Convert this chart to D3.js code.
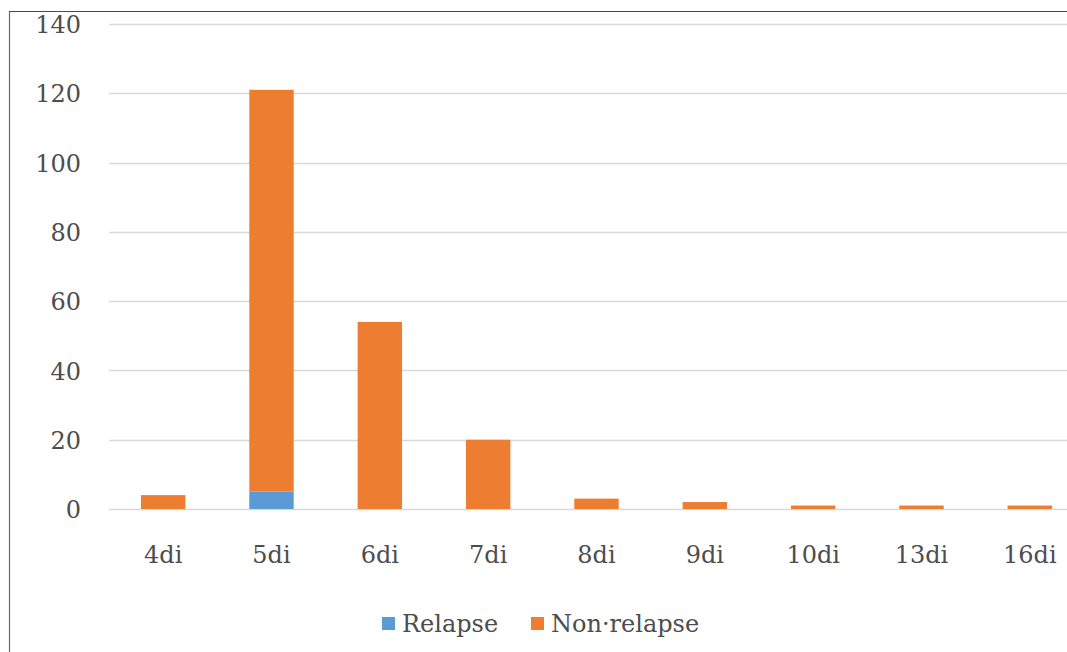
<!DOCTYPE html>
<html>
<head>
<meta charset="utf-8">
<script src="https://cdn.jsdelivr.net/npm/d3@7"></script>
<style>
  html, body { margin: 0; padding: 0; background: #fff; }
  svg { display: block; }
  svg text { font-family: "DejaVu Serif", serif; fill: #4d4d4d; }
</style>
</head>
<body>
<svg id="chart" width="1067" height="652"></svg>
<script>
const categories = ["4di", "5di", "6di", "7di", "8di", "9di", "10di", "13di", "16di"];
const relapse    = [0, 5, 0, 0, 0, 0, 0, 0, 0];
const nonRelapse = [4, 116, 54, 20, 3, 2, 1, 1, 1];
const seriesNames = ["Relapse", "Non-relapse"];
const seriesLabels = ["Relapse", "Non\u00b7relapse"];
const yTicks = [0, 20, 40, 60, 80, 100, 120, 140];
const colors = ["#5B9BD5", "#ED7D31"];

const svg = d3.select("#chart");
const W = 1067, H = 652;
const FONT = "'DejaVu Serif', serif";

// outer frame (left and top edges visible)
svg.append("line").attr("x1", 9.5).attr("x2", 9.5).attr("y1", 11).attr("y2", H)
  .attr("stroke", "#6a6a6a").attr("stroke-width", 1.2);
svg.append("line").attr("x1", 9).attr("x2", W).attr("y1", 11.5).attr("y2", 11.5)
  .attr("stroke", "#4a4a4a").attr("stroke-width", 1.2);

const x = d3.scaleBand().domain(categories).range([109, 1084]).paddingInner(0.59).paddingOuter(0.295);
const y = d3.scaleLinear().domain([0, 140]).range([509, 24]);

// gridlines
svg.append("g").selectAll("line").data(yTicks).join("line")
  .attr("x1", 109).attr("x2", W)
  .attr("y1", d => Math.round(y(d)) + 0.5).attr("y2", d => Math.round(y(d)) + 0.5)
  .attr("stroke", "#d9d9d9").attr("stroke-width", 1.3);

// y-axis labels
const yAxis = d3.axisLeft(y).tickValues(yTicks).tickSize(0).tickPadding(0);
const gy = svg.append("g").attr("transform", "translate(81,0)").call(yAxis);
gy.select(".domain").remove();
gy.selectAll("text").style("font-family", FONT).style("font-size", "24px").style("fill", "#4d4d4d").attr("dy", "0.36em");

// stacked bars
const rows = categories.map((c, i) => ({ cat: c, "Relapse": relapse[i], "Non-relapse": nonRelapse[i] }));
const stacked = d3.stack().keys(seriesNames)(rows);
svg.append("g").selectAll("g").data(stacked).join("g")
  .attr("fill", (d, i) => colors[i])
  .selectAll("rect").data(d => d).join("rect")
  .attr("x", d => x(d.data.cat))
  .attr("width", x.bandwidth())
  .attr("y", d => y(d[1]))
  .attr("height", d => y(d[0]) - y(d[1]));

// category axis
const xAxis = d3.axisBottom(x).tickSize(0).tickPadding(0);
const gx = svg.append("g").attr("transform", "translate(0,563)").call(xAxis);
gx.select(".domain").remove();
gx.selectAll("text").attr("dy", 0).style("font-family", FONT).style("font-size", "24px").style("fill", "#4d4d4d");

// legend
const legendX = [382, 531];
const lg = svg.append("g");
seriesLabels.forEach((name, i) => {
  lg.append("rect").attr("x", legendX[i]).attr("y", 617).attr("width", 13).attr("height", 13).attr("fill", colors[i]);
  lg.append("text").attr("x", legendX[i] + 20).attr("y", 632)
    .style("font-family", FONT).style("font-size", "24px").text(name);
});
</script>
</body>
</html>
